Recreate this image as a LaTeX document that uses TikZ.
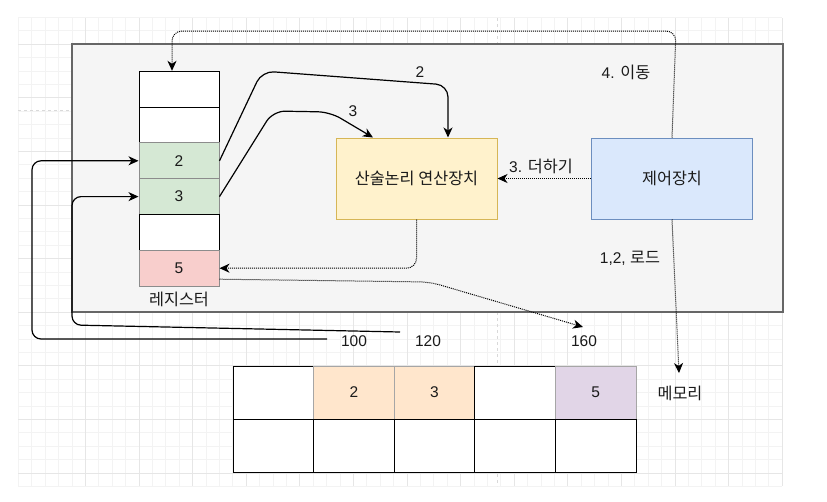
\documentclass[tikz,border=0pt]{standalone}
\usepackage{fontspec}
\setmainfont{Liberation Sans}
\newfontfamily\kr[Scale=1.05]{Noto Sans CJK KR}
\usetikzlibrary{arrows.meta}
\definecolor{gridminor}{HTML}{F3F3F3}
\definecolor{gridmajor}{HTML}{E6E6E6}
\definecolor{contfill}{HTML}{F5F5F5}
\definecolor{contdraw}{HTML}{666666}
\definecolor{greenfill}{HTML}{D5E8D4}
\definecolor{pinkfill}{HTML}{F8CECC}
\definecolor{yellowfill}{HTML}{FFF2CC}
\definecolor{yellowdraw}{HTML}{D6B656}
\definecolor{bluefill}{HTML}{DAE8FC}
\definecolor{bluedraw}{HTML}{6C8EBF}
\definecolor{orangefill}{HTML}{FFE6CC}
\definecolor{purplefill}{HTML}{E1D5E7}
\definecolor{txt}{HTML}{1A1A1A}
\tikzset{
  every node/.style={font=\fontsize{15.5}{18}\selectfont, text=txt},
  regcell/.style={draw=black, fill=white, line width=1pt, minimum width=80pt, minimum height=35.8pt, inner sep=0pt},
  regcolor/.style={regcell, draw=black!45},
  memcell/.style={draw=black, fill=white, line width=1pt, minimum width=80.6pt, minimum height=53pt, inner sep=0pt},
  memcolor/.style={memcell, draw=black!35},
  unitbox/.style={line width=1pt, minimum width=161pt, minimum height=81pt, inner sep=0pt},
  lbl/.style={inner sep=1pt},
  arr/.style={-{Stealth[length=10pt,width=9pt,inset=3pt]}},
  solidcon/.style={arr, line width=1.2pt, black, rounded corners=12pt},
  dotcon/.style={arr, line width=1pt, black, dash pattern=on 1pt off 1pt, rounded corners=10pt},
}
\begin{document}
\begin{tikzpicture}[x=1pt,y=-1pt]
\useasboundingbox (0,0) rectangle (827,501);
% background grid
\foreach \k in {-5,...,52} {
  \draw[gridminor, line width=0.8pt] ({85.3+13.4*\k},18.3) -- ({85.3+13.4*\k},486.3);
}
\foreach \k in {-30,...,5} {
  \draw[gridminor, line width=0.8pt] (18.3,{419.3+13.4*\k}) -- (782.1,{419.3+13.4*\k});
}
\foreach \k in {0,...,13} {
  \draw[gridmajor, line width=0.8pt] ({85.3+53.6*\k},18.3) -- ({85.3+53.6*\k},486.3);
}
\foreach \k in {-7,...,1} {
  \draw[gridmajor, line width=0.8pt] (18.3,{419.3+53.6*\k}) -- (782.1,{419.3+53.6*\k});
}
% page break lines
\draw[black!15, dashed, line width=0.6pt] (18.3,110) -- (782.1,110);
\draw[black!15, dashed, line width=0.6pt] (497,18.3) -- (497,486.3);
% container
\node[draw=contdraw, fill=contfill, line width=1.3pt, minimum width=711pt, minimum height=268pt, inner sep=0pt] (cont) at (427.5,178) {};
% registers
\node[regcell] (r1) at (179,89.2) {};
\node[regcell] (r2e) at (179,125) {};
\node[regcolor, fill=greenfill] (r2) at (179,160.8) {2};
\node[regcolor, fill=greenfill] (r3) at (179,196.6) {3};
\node[regcell] (r4) at (179,232.4) {};
\node[regcolor, fill=pinkfill] (r5) at (179,268.2) {5};
\node[lbl] (reglbl) at (179,299) {\kr 레지스터};
% units
\node[unitbox, draw=yellowdraw, fill=yellowfill] (alu) at (416.5,178.5) {\kr 산술논리 연산장치};
\node[unitbox, draw=bluedraw, fill=bluefill] (ctrl) at (672,178.5) {\kr 제어장치};
% memory
\node[memcell] (m1) at (273.3,392.5) {};
\node[memcolor, fill=orangefill] (m2) at (353.9,392.5) {2};
\node[memcolor, fill=orangefill] (m3) at (434.5,392.5) {3};
\node[memcell] (m4) at (515.1,392.5) {};
\node[memcolor, fill=purplefill] (m5) at (595.7,392.5) {5};
\node[memcell] (n1) at (273.3,445.5) {};
\node[memcell] (n2) at (353.9,445.5) {};
\node[memcell] (n3) at (434.5,445.5) {};
\node[memcell] (n4) at (515.1,445.5) {};
\node[memcell] (n5) at (595.7,445.5) {};
\node[lbl] (memlbl) at (680,393) {\kr 메모리};
% labels
\node[lbl] (l2) at (420,72) {2};
\node[lbl] (l3) at (353,111) {3};
\node[lbl] (lmove) at (626,72) {4. {\kr 이동}};
\node[lbl] (ladd) at (541,166) {3. {\kr 더하기}};
\node[lbl] (lload) at (630,258) {1,2, {\kr 로드}};
\node[lbl] (a100) at (354,341) {100};
\node[lbl] (a120) at (428,341) {120};
\node[lbl] (a160) at (584,341) {160};
% free ends
\coordinate (s100) at (327,339);
\coordinate (s120) at (400,332);
\coordinate (e160) at (583,327);
\coordinate (emem) at (679,373);
% solid connectors
\draw[solidcon] (r2.east) -- (262,71) -- (448,85) -- (448,137.5);
\draw[solidcon] (r3.east) -- (273,111) -- (330,112) -- (373,137.5);
\draw[solidcon, rounded corners=9pt] (s100) -- (32,339) -- (32,160.8) -- (r2.west);
\draw[solidcon, rounded corners=9pt] (s120) -- (72,325) -- (72,196.6) -- (r3.west);
% dotted connectors
\draw[dotcon] (alu.south) -- (416.5,268.2) -- (r5.east);
\draw[dotcon] ([yshift=-11pt]r5.east) -- (430,282) -- (e160);
\draw[dotcon] (ctrl.west) -- (alu.east);
\draw[dotcon] (ctrl.north) -- (676,31) -- (172,31) -- ([xshift=-7pt]r1.north);
\draw[dotcon] (ctrl.south) -- (emem);
\end{tikzpicture}
\end{document}
